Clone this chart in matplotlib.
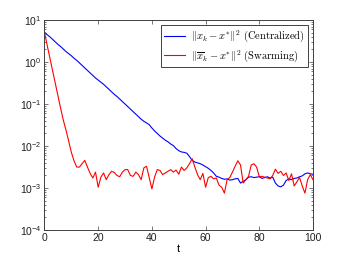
#error decay: centralized vs swarming
import numpy as np
import matplotlib
matplotlib.use("Agg")
import matplotlib.pyplot as plt
from matplotlib.ticker import LogLocator, NullFormatter, FixedLocator

#data (log10 of the squared error)
t = list(range(0, 101))
central_log = [0.71, 0.65, 0.60, 0.54, 0.48, 0.42, 0.37, 0.31, 0.25, 0.20,
               0.15, 0.09, 0.04, -0.02, -0.08, -0.14, -0.20, -0.26, -0.32, -0.38,
               -0.43, -0.48, -0.53, -0.59, -0.65, -0.71, -0.77, -0.82, -0.88, -0.94,
               -1.00, -1.06, -1.12, -1.18, -1.24, -1.30, -1.36, -1.41, -1.45, -1.49,
               -1.57, -1.64, -1.70, -1.76, -1.81, -1.86, -1.90, -1.95, -1.99, -2.06,
               -2.11, -2.14, -2.15, -2.17, -2.25, -2.34, -2.38, -2.40, -2.42, -2.45,
               -2.49, -2.53, -2.58, -2.64, -2.72, -2.74, -2.77, -2.79, -2.78, -2.81,
               -2.80, -2.78, -2.77, -2.88, -2.84, -2.80, -2.74, -2.73, -2.75, -2.74,
               -2.73, -2.77, -2.75, -2.73, -2.76, -2.74, -2.88, -2.95, -2.97, -2.93,
               -2.82, -2.78, -2.80, -2.77, -2.76, -2.73, -2.71, -2.66, -2.64, -2.66,
               -2.67]
swarm_log = [0.71, 0.40, 0.10, -0.20, -0.50, -0.80, -1.10, -1.38, -1.62, -1.88,
             -2.15, -2.35, -2.50, -2.50, -2.42, -2.34, -2.50, -2.65, -2.76, -2.62,
             -2.98, -2.74, -2.64, -2.80, -2.68, -2.60, -2.63, -2.70, -2.73, -2.62,
             -2.56, -2.56, -2.70, -2.72, -2.62, -2.68, -2.80, -2.52, -2.48, -2.75,
             -3.02, -2.74, -2.56, -2.58, -2.68, -2.64, -2.60, -2.56, -2.62, -2.57,
             -2.67, -2.50, -2.58, -2.52, -2.42, -2.30, -2.50, -2.68, -2.80, -2.65,
             -2.98, -2.75, -2.72, -2.78, -2.76, -2.93, -2.98, -3.12, -2.80, -2.75,
             -2.62, -2.48, -2.35, -2.45, -2.88, -2.80, -2.72, -2.45, -2.42, -2.50,
             -2.73, -2.72, -2.74, -2.76, -2.78, -2.70, -2.55, -2.65, -2.60, -2.70,
             -2.64, -2.82, -2.66, -2.95, -2.85, -2.75, -2.95, -3.12, -2.80, -2.68,
             -2.80]
labels = [r"$\|x_k - x^{*}\|^2\ \mathrm{(Centralized)}$",
          r"$\|\overline{x}_k - x^{*}\|^2\ \mathrm{(Swarming)}$"]

plt.rcParams['font.family'] = ['Liberation Sans', 'DejaVu Sans']
plt.rcParams['mathtext.fontset'] = 'cm'

fig = plt.figure(figsize=(3.46, 2.60), dpi=100)
ax = fig.add_axes([0.1286, 0.115, 0.776, 0.808])

ax.semilogy(t, 10 ** np.array(central_log), color='blue', linewidth=0.8, label=labels[0])
ax.semilogy(t, 10 ** np.array(swarm_log), color='red', linewidth=0.8, label=labels[1])

ax.set_xlim(0, 100)
ax.set_ylim(1e-4, 1e1)
ax.set_xticks([0, 20, 40, 60, 80, 100])
ax.yaxis.set_major_locator(FixedLocator([1e-4, 1e-3, 1e-2, 1e-1, 1e0, 1e1]))
ax.yaxis.set_minor_locator(LogLocator(base=10, subs=np.arange(2, 10), numticks=20))
ax.yaxis.set_minor_formatter(NullFormatter())
ax.set_xlabel("t", fontsize=8, labelpad=1)

edge = '#404040'
for s in ax.spines.values():
    s.set_color(edge)
    s.set_linewidth(0.7)
ax.tick_params(which='both', direction='in', top=True, right=True, colors=edge,
               labelcolor='#202020', labelsize=7.5, width=0.5)
ax.tick_params(which='major', length=3, pad=2)
ax.tick_params(which='minor', length=1.6)

leg = ax.legend(loc='upper right', fontsize=7.6, fancybox=False, framealpha=1,
                edgecolor=edge, handlelength=2.0, handletextpad=0.5,
                borderpad=0.3, labelspacing=0.35, borderaxespad=0.5)
leg.get_frame().set_linewidth(0.7)

fig.savefig("out.png", dpi=100)
